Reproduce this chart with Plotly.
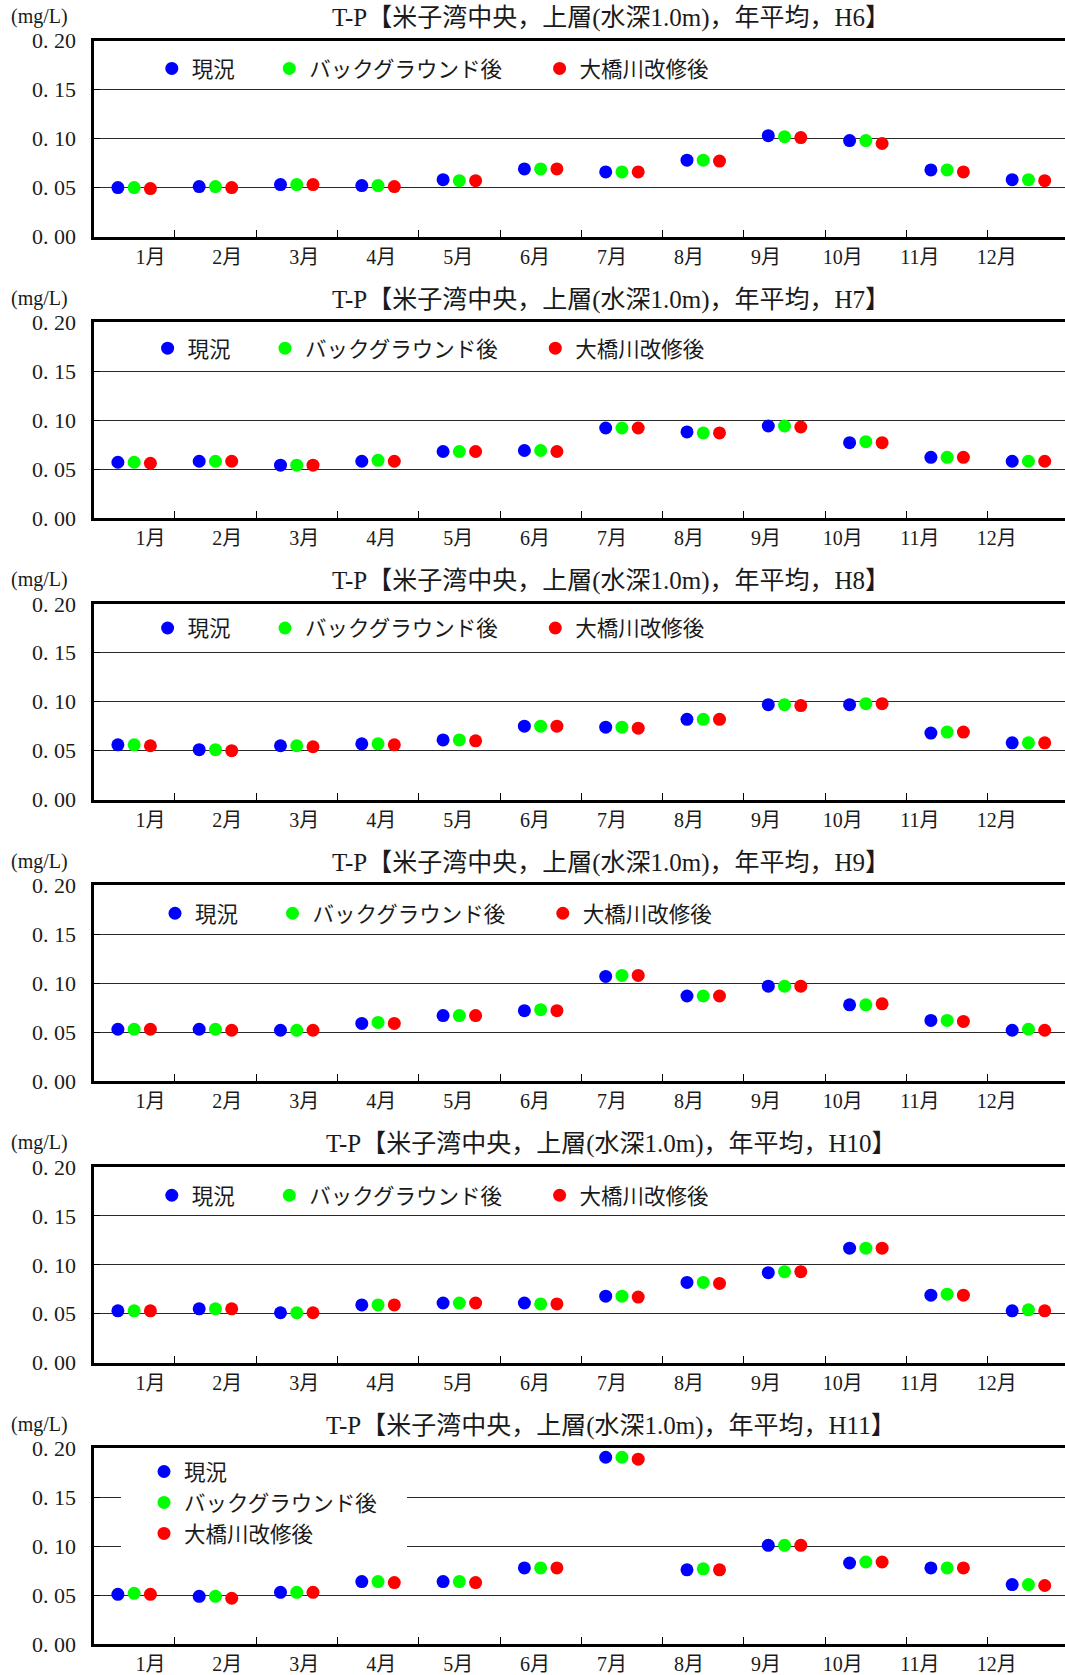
import plotly.graph_objects as go

# ---------------- data ----------------
months = ["1月", "2月", "3月", "4月", "5月", "6月", "7月", "8月", "9月", "10月", "11月", "12月"]
series_names = ["現況", "バックグラウンド後", "大橋川改修後"]
series_colors = ["#0000FF", "#00FF00", "#FF0000"]
years = ["H6", "H7", "H8", "H9", "H10", "H11"]
y_ticks = [0.00, 0.05, 0.10, 0.15, 0.20]
y_ticktext = ["0. 00", "0. 05", "0. 10", "0. 15", "0. 20"]
unit_label = "(mg/L)"

h6_current    = [0.050, 0.051, 0.053, 0.052, 0.058, 0.069, 0.066, 0.078, 0.103, 0.098, 0.068, 0.058]
h6_background = [0.050, 0.051, 0.053, 0.052, 0.057, 0.069, 0.066, 0.078, 0.102, 0.098, 0.068, 0.058]
h6_ohashi     = [0.049, 0.050, 0.053, 0.051, 0.057, 0.069, 0.066, 0.077, 0.101, 0.095, 0.066, 0.057]

h7_current    = [0.057, 0.058, 0.054, 0.058, 0.068, 0.069, 0.092, 0.088, 0.094, 0.077, 0.062, 0.058]
h7_background = [0.057, 0.058, 0.054, 0.059, 0.068, 0.069, 0.092, 0.087, 0.094, 0.078, 0.062, 0.058]
h7_ohashi     = [0.056, 0.058, 0.054, 0.058, 0.068, 0.068, 0.092, 0.087, 0.093, 0.077, 0.062, 0.058]

h8_current    = [0.056, 0.051, 0.055, 0.057, 0.061, 0.075, 0.074, 0.082, 0.097, 0.097, 0.068, 0.058]
h8_background = [0.056, 0.051, 0.055, 0.057, 0.061, 0.075, 0.074, 0.082, 0.097, 0.098, 0.069, 0.058]
h8_ohashi     = [0.055, 0.050, 0.054, 0.056, 0.060, 0.075, 0.073, 0.082, 0.096, 0.098, 0.069, 0.058]

h9_current    = [0.053, 0.053, 0.052, 0.059, 0.067, 0.072, 0.107, 0.087, 0.097, 0.078, 0.062, 0.052]
h9_background = [0.053, 0.053, 0.052, 0.060, 0.067, 0.073, 0.108, 0.087, 0.097, 0.078, 0.062, 0.053]
h9_ohashi     = [0.053, 0.052, 0.052, 0.059, 0.067, 0.072, 0.108, 0.087, 0.097, 0.079, 0.061, 0.052]

h10_current    = [0.053, 0.055, 0.051, 0.059, 0.061, 0.061, 0.068, 0.082, 0.092, 0.117, 0.069, 0.053]
h10_background = [0.053, 0.055, 0.051, 0.059, 0.061, 0.060, 0.068, 0.082, 0.093, 0.117, 0.070, 0.054]
h10_ohashi     = [0.053, 0.055, 0.051, 0.059, 0.061, 0.060, 0.067, 0.081, 0.093, 0.117, 0.069, 0.053]

h11_current    = [0.051, 0.049, 0.053, 0.064, 0.064, 0.078, 0.191, 0.076, 0.101, 0.083, 0.078, 0.061]
h11_background = [0.052, 0.049, 0.053, 0.064, 0.064, 0.078, 0.191, 0.077, 0.101, 0.084, 0.078, 0.061]
h11_ohashi     = [0.051, 0.047, 0.053, 0.063, 0.063, 0.078, 0.189, 0.076, 0.101, 0.084, 0.078, 0.060]

panel_data = [
    (h6_current, h6_background, h6_ohashi),
    (h7_current, h7_background, h7_ohashi),
    (h8_current, h8_background, h8_ohashi),
    (h9_current, h9_background, h9_ohashi),
    (h10_current, h10_background, h10_ohashi),
    (h11_current, h11_background, h11_ohashi),
]

# ---------------- layout geometry (pixels) ----------------
W, H = 1065, 1675
TOP0, STEP, PH = 40.7, 281.55, 195.8
X_LEFT = 93.5
CAT_W = 81.3
X_RANGE = [-0.5, -0.5 + (W - X_LEFT) / CAT_W]
SERIES_OFFSET = [-0.2, 0.0, 0.2]
LABEL_POS = [0.2 + i * (10.61 - 0.2) / 11 for i in range(12)]
BOUNDARIES = [i + 0.5 for i in range(11)]

FONT = "Liberation Serif, Noto Sans CJK JP, serif"
TXT = "#1a1a1a"

# horizontal legend marker positions (px) for panels 1-5: (x_blue, x_green, x_red, y)
LEG_H = [
    (169.8, 287.3, 557.6, 68.4),
    (165.6, 283.0, 553.3, 348.2),
    (165.6, 283.0, 553.3, 628.0),
    (173.0, 290.5, 560.8, 913.3),
    (169.8, 287.3, 557.6, 1195.3),
]
LEG_V = (165.0, 1471.7)  # panel 6 first marker
LEG_SHIFT = 2


def px_x(p):
    return p / W


def px_y(p):
    return 1 - p / H


fig = go.Figure()
layout = dict(
    width=W, height=H,
    margin=dict(l=0, r=0, t=0, b=0, pad=0, autoexpand=False),
    paper_bgcolor="white", plot_bgcolor="white",
    font=dict(family=FONT, color=TXT),
    showlegend=True,
    annotations=[], shapes=[],
)

leg_count = 0
for k in range(6):
    top = TOP0 + k * STEP
    bot = top + PH
    sx = "" if k == 0 else str(k + 1)
    xa, ya = "x" + sx, "y" + sx
    for s in range(3):
        if k < 5:
            leg_count += 1
            lname = "legend" if leg_count == 1 else "legend" + str(leg_count)
            mx = LEG_H[k][s]
            my = LEG_H[k][3]
            layout[lname] = dict(
                x=px_x(mx + LEG_SHIFT - 20), xanchor="left", y=px_y(my), yanchor="middle",
                bgcolor="rgba(0,0,0,0)", borderwidth=0,
                font=dict(size=21.5, family=FONT, color=TXT),
                orientation="h",
            )
        else:
            lname = "legend16"
        fig.add_trace(go.Scatter(
            x=[i + SERIES_OFFSET[s] for i in range(12)],
            y=panel_data[k][s],
            mode="markers",
            name=series_names[s],
            marker=dict(color=series_colors[s], size=13, line=dict(width=0)),
            xaxis=xa, yaxis=ya,
            legend=lname,
            legendgroup="g%d_%d" % (k, s),
            hoverinfo="x+y",
        ))
    layout["legend16"] = dict(
        x=px_x(LEG_V[0] - 1 - 20), xanchor="left", y=px_y(LEG_V[1] - 20.7), yanchor="top",
        bgcolor="rgba(0,0,0,0)", borderwidth=0,
        font=dict(size=21.5, family=FONT, color=TXT),
        orientation="v", tracegroupgap=0,
    )

    layout["xaxis" + sx] = dict(
        domain=[px_x(X_LEFT), 1.0], anchor=ya, range=X_RANGE,
        tickmode="array", tickvals=LABEL_POS, ticktext=months, ticks="", ticklen=0,
        tickfont=dict(size=20, family=FONT, color=TXT),
        ticklabelstandoff=0,
        showgrid=False, zeroline=False,
        showline=True, linecolor="black", linewidth=3, mirror=True,
        minor=dict(tickmode="array", tickvals=BOUNDARIES, ticks="inside",
                   ticklen=7, tickcolor="black", tickwidth=1, showgrid=False),
        fixedrange=True, automargin=False,
    )
    layout["yaxis" + sx] = dict(
        domain=[px_y(bot), px_y(top)], anchor=xa, range=[0, 0.2],
        tickmode="array", tickvals=y_ticks, ticktext=y_ticktext,
        ticks="inside", ticklen=6, tickcolor="black",
        tickfont=dict(size=22, family=FONT, color=TXT),
        ticklabelstandoff=10,
        showgrid=True, gridcolor="#2a2a2a", gridwidth=1,
        zeroline=False,
        showline=True, linecolor="black", linewidth=3, mirror=False,
        fixedrange=True, automargin=False,
    )
    title = "T-P【米子湾中央，上層(水深1.0m)，年平均，%s】" % years[k]
    layout["annotations"].append(dict(
        text=title, x=px_x(611), y=px_y(top - 22.5), xref="paper", yref="paper",
        xanchor="center", yanchor="middle", showarrow=False,
        font=dict(size=25, family=FONT, color=TXT),
    ))
    layout["annotations"].append(dict(
        text=unit_label, x=px_x(8.5), y=px_y(top - 24), xref="paper", yref="paper",
        xanchor="left", yanchor="middle", showarrow=False,
        font=dict(size=20, family=FONT, color=TXT),
    ))

# white backing behind the boxed legend of the last panel (hides gridlines only)
top6 = TOP0 + 5 * STEP
bot6 = top6 + PH
cx0 = X_LEFT + CAT_W / 2


def dx(p):
    return (p - cx0) / CAT_W


def dy(p):
    return (bot6 - p) / PH * 0.2


layout["shapes"].append(dict(
    type="rect", xref="x6", yref="y6",
    x0=dx(121), x1=dx(407), y0=dy(1562), y1=0.197,
    fillcolor="white", line=dict(width=0), layer="between",
))

fig.update_layout(**layout)
fig.write_html(
    "out.html",
    config={"displayModeBar": False},
    post_script="document.body.style.margin='0px';document.body.style.padding='0px';"
                "document.body.style.overflow='hidden';",
)
